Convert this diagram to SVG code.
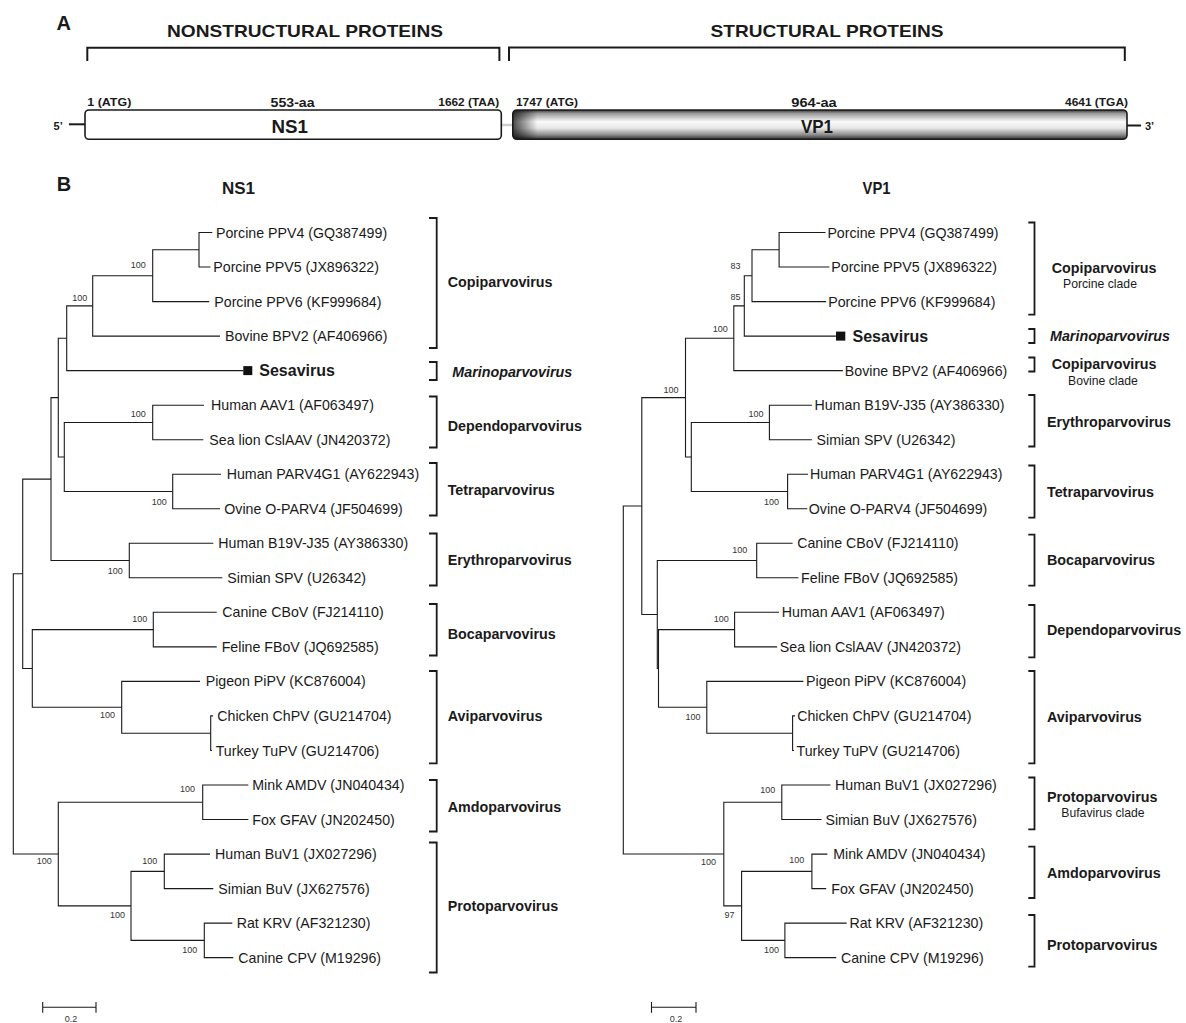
<svg xmlns="http://www.w3.org/2000/svg" width="1186" height="1023" viewBox="0 0 1186 1023">
<style>
text{font-family:"Liberation Sans",Arial,Helvetica,sans-serif;fill:#1a1a1a}
.hd{font-weight:bold;font-size:17px;text-anchor:middle}
.pos{font-weight:bold;font-size:11px}
.aa{font-weight:bold;font-size:13px;text-anchor:middle}
.gene{font-weight:bold;font-size:19px;text-anchor:middle}
.panel{font-weight:bold;font-size:20px}
.ttl{font-weight:bold;font-size:17px;text-anchor:middle}
.leaf{font-size:14.2px}
.ses{font-size:16px;font-weight:bold}
.clade{font-size:14.3px;font-weight:bold}
.it{font-style:italic}
.sub{font-size:12.2px;text-anchor:middle}
.bs{font-size:9px;text-anchor:end;fill:#333}
.sc{font-size:9px;text-anchor:middle;fill:#333}
.br{fill:none;stroke:#1a1a1a;stroke-width:1.1}
.brk{fill:none;stroke:#1a1a1a;stroke-width:1.8}
.hb{fill:none;stroke:#1a1a1a;stroke-width:2}
</style>
<defs>
<linearGradient id="cyl" x1="0" y1="0" x2="0" y2="1">
<stop offset="0" stop-color="#3a3a3a"/>
<stop offset="0.12" stop-color="#9a9a9a"/>
<stop offset="0.4" stop-color="#fbfbfb"/>
<stop offset="0.62" stop-color="#e6e6e6"/>
<stop offset="0.85" stop-color="#8a8a8a"/>
<stop offset="1" stop-color="#2e2e2e"/>
</linearGradient>
<linearGradient id="cylEnd" x1="0" y1="0" x2="1" y2="0">
<stop offset="0" stop-color="#000" stop-opacity="0.7"/>
<stop offset="0.04" stop-color="#000" stop-opacity="0"/>
<stop offset="1" stop-color="#000" stop-opacity="0"/>
</linearGradient>
</defs>
<rect width="1186" height="1023" fill="#fff"/>

<!-- Panel A -->
<g id="panelA">
<text class="panel" x="56.5" y="29.5">A</text>
<g id="hdr-nonstructural">
<text class="hd" x="305" y="36.7" textLength="276" lengthAdjust="spacingAndGlyphs">NONSTRUCTURAL PROTEINS</text>
<path class="hb" d="M87.3 61 V47.7 H499.4 V61"/>
</g>
<g id="hdr-structural">
<text class="hd" x="827" y="36.7" textLength="233" lengthAdjust="spacingAndGlyphs">STRUCTURAL PROTEINS</text>
<path class="hb" d="M509 61 V47.5 H1124.8 V61"/>
</g>
<g id="genome">
<line x1="68.9" y1="124.3" x2="85" y2="124.3" stroke="#1a1a1a" stroke-width="2"/>
<text class="pos" x="53.6" y="130">5’</text>
<line x1="501" y1="125" x2="513" y2="125" stroke="#cfcfcf" stroke-width="2.5"/>
<line x1="1127" y1="125.5" x2="1141" y2="125.5" stroke="#1a1a1a" stroke-width="2"/>
<text class="pos" x="1145" y="130">3’</text>
</g>
<g id="ns1-gene">
<rect x="85" y="110" width="416.3" height="29.3" rx="4" fill="#fff" stroke="#1a1a1a" stroke-width="1.6"/>
<text class="gene" x="289.7" y="132.7" textLength="36.5" lengthAdjust="spacingAndGlyphs">NS1</text>
<text class="pos" x="87.3" y="106" textLength="44" lengthAdjust="spacingAndGlyphs">1 (ATG)</text>
<text class="aa" x="292.6" y="106.5" textLength="44" lengthAdjust="spacingAndGlyphs">553-aa</text>
<text class="pos" x="438.3" y="106" textLength="61" lengthAdjust="spacingAndGlyphs">1662 (TAA)</text>
</g>
<g id="vp1-gene">
<rect x="512.8" y="110" width="614.2" height="29.3" rx="4" fill="url(#cyl)"/>
<rect x="512.8" y="110" width="614.2" height="29.3" rx="4" fill="url(#cylEnd)" stroke="#1a1a1a" stroke-width="1.6"/>
<text class="gene" x="817" y="132.7" textLength="32" lengthAdjust="spacingAndGlyphs">VP1</text>
<text class="pos" x="515.9" y="106" textLength="62" lengthAdjust="spacingAndGlyphs">1747 (ATG)</text>
<text class="aa" x="814" y="106.5" textLength="45.5" lengthAdjust="spacingAndGlyphs">964-aa</text>
<text class="pos" x="1065" y="106" textLength="63" lengthAdjust="spacingAndGlyphs">4641 (TGA)</text>
</g>
</g>

<!-- Panel B titles -->
<text class="panel" x="56.7" y="190.7">B</text>
<text class="ttl" x="238.5" y="193.5">NS1</text>
<text class="ttl" x="876.6" y="193.5" textLength="28" lengthAdjust="spacingAndGlyphs">VP1</text>

<!-- Connectors: NS1 tree -->
<g id="ns1-branches" class="br">
<path d="M212.3 232.5 H199 V267 H210.5"/>
<path d="M199 249.75 H152.7 V301.6 H209.3"/>
<path d="M152.7 275.7 H92.7 V336.1 H220"/>
<path d="M92.7 305.9 H66.7 V370.6 H243.3"/>
<path d="M204 405.2 H152.7 V439.7 H203.3"/>
<path d="M221 474.2 H172.7 V508.8 H220"/>
<path d="M152.7 422.45 H64.3 V491.5 H172.7"/>
<path d="M66.7 338.25 H58.3 V456.98 H64.3"/>
<path d="M213.3 543.3 H129.3 V577.8 H222.3"/>
<path d="M58.3 397.6 H51 V560.55 H129.3"/>
<path d="M216.7 612.3 H153.3 V646.9 H216.7"/>
<path d="M213 715.9 H210.7 V750.5 H212"/>
<path d="M200 681.4 H121.7 V733.2 H210.7"/>
<path d="M153.3 629.6 H32.3 V707.3 H121.7"/>
<path d="M51 479.1 H22.7 V668.45 H32.3"/>
<path d="M248.3 785 H202.7 V819.5 H248.3"/>
<path d="M210 854.1 H164.3 V888.6 H213.3"/>
<path d="M232.3 923.1 H204.3 V957.6 H233.3"/>
<path d="M164.3 871.35 H131 V940.35 H204.3"/>
<path d="M202.7 802.25 H58.3 V905.85 H131"/>
<path d="M22.7 573.8 H13.3 V854.05 H58.3"/>
</g>

<!-- Connectors: VP1 tree -->
<g id="vp1-branches" class="br">
<path d="M825.5 232.5 H779.1 V267 H829.3"/>
<path d="M779.1 249.75 H752 V301.6 H826.2"/>
<path d="M752 275.7 H744.3 V336.1 H835.9"/>
<path d="M744.3 305.9 H733.8 V370.6 H842.9"/>
<path d="M811.9 405.2 H769.4 V439.7 H811.9"/>
<path d="M808 474.2 H787.6 V508.8 H807.3"/>
<path d="M769.4 422.45 H691.3 V491.5 H787.6"/>
<path d="M733.8 338.25 H685.5 V457 H691.3"/>
<path d="M792.6 543.3 H756.7 V577.8 H798.4"/>
<path d="M779 612.3 H734.6 V646.9 H777.1"/>
<path d="M795 715.9 H792.6 V750.5 H794"/>
<path d="M803.4 681.4 H706.8 V733.2 H792.6"/>
<path d="M734.6 629.6 H658.5 V707.3 H706.8"/>
<path d="M756.7 560.55 H657.3 V668.45 H658.5"/>
<path d="M685.5 397.6 H641.8 V614.5 H657.3"/>
<path d="M830.5 785 H781.8 V819.5 H821.6"/>
<path d="M827.4 854.1 H811.9 V888.6 H826.2"/>
<path d="M846.7 923.1 H784.9 V957.6 H836.3"/>
<path d="M811.9 871.35 H741.6 V940.35 H784.9"/>
<path d="M781.8 802.25 H723.8 V905.85 H741.6"/>
<path d="M641.8 506.05 H623.3 V854.05 H723.8"/>
</g>

<!-- Bootstrap values -->
<g id="ns1-support">
<text class="bs" x="145.7" y="268">100</text>
<text class="bs" x="87.3" y="300.7">100</text>
<text class="bs" x="145.7" y="416.7">100</text>
<text class="bs" x="166.7" y="505">100</text>
<text class="bs" x="122.7" y="574">100</text>
<text class="bs" x="147.3" y="621.7">100</text>
<text class="bs" x="115" y="718.3">100</text>
<text class="bs" x="195" y="792.3">100</text>
<text class="bs" x="51.7" y="864">100</text>
<text class="bs" x="157.3" y="864">100</text>
<text class="bs" x="125" y="917.7">100</text>
<text class="bs" x="197.3" y="952.7">100</text>
</g>
<g id="vp1-support">
<text class="bs" x="740.4" y="269">83</text>
<text class="bs" x="740.4" y="300">85</text>
<text class="bs" x="727.7" y="331.7">100</text>
<text class="bs" x="678.6" y="393">100</text>
<text class="bs" x="763.6" y="416.7">100</text>
<text class="bs" x="779" y="505">100</text>
<text class="bs" x="747.4" y="552.7">100</text>
<text class="bs" x="728.8" y="621.7">100</text>
<text class="bs" x="700.6" y="720">100</text>
<text class="bs" x="775.2" y="793.3">100</text>
<text class="bs" x="716" y="865">100</text>
<text class="bs" x="734.6" y="917.7">97</text>
<text class="bs" x="804.2" y="862.7">100</text>
<text class="bs" x="779" y="952.7">100</text>
</g>

<!-- NS1 leaves -->
<g id="ns1-ppv4"><text class="leaf" x="216" y="237.5">Porcine PPV4 (GQ387499)</text></g>
<g id="ns1-ppv5"><text class="leaf" x="213.3" y="272">Porcine PPV5 (JX896322)</text></g>
<g id="ns1-ppv6"><text class="leaf" x="214.3" y="306.6">Porcine PPV6 (KF999684)</text></g>
<g id="ns1-bpv2"><text class="leaf" x="225" y="341.1">Bovine BPV2 (AF406966)</text></g>
<g id="ns1-sesavirus"><rect x="243.3" y="366.1" width="9" height="9" fill="#111"/><text class="ses" x="259.3" y="376.3">Sesavirus</text></g>
<g id="ns1-aav1"><text class="leaf" x="211" y="410.2">Human AAV1 (AF063497)</text></g>
<g id="ns1-cslaav"><text class="leaf" x="209.3" y="444.7">Sea lion CslAAV (JN420372)</text></g>
<g id="ns1-parv4g1"><text class="leaf" x="226.7" y="479.2">Human PARV4G1 (AY622943)</text></g>
<g id="ns1-oparv4"><text class="leaf" x="224.3" y="513.8">Ovine O-PARV4 (JF504699)</text></g>
<g id="ns1-b19v"><text class="leaf" x="218.3" y="548.3">Human B19V-J35 (AY386330)</text></g>
<g id="ns1-spv"><text class="leaf" x="227.3" y="582.8">Simian SPV (U26342)</text></g>
<g id="ns1-cbov"><text class="leaf" x="222.3" y="617.3">Canine CBoV (FJ214110)</text></g>
<g id="ns1-fbov"><text class="leaf" x="221.7" y="651.9">Feline FBoV (JQ692585)</text></g>
<g id="ns1-pipv"><text class="leaf" x="205.7" y="686.4">Pigeon PiPV (KC876004)</text></g>
<g id="ns1-chpv"><text class="leaf" x="217.3" y="720.9">Chicken ChPV (GU214704)</text></g>
<g id="ns1-tupv"><text class="leaf" x="215.7" y="755.5">Turkey TuPV (GU214706)</text></g>
<g id="ns1-amdv"><text class="leaf" x="252.3" y="790">Mink AMDV (JN040434)</text></g>
<g id="ns1-gfav"><text class="leaf" x="252.3" y="824.5">Fox GFAV (JN202450)</text></g>
<g id="ns1-buv1"><text class="leaf" x="215" y="859.1">Human BuV1 (JX027296)</text></g>
<g id="ns1-sbuv"><text class="leaf" x="218.3" y="893.6">Simian BuV (JX627576)</text></g>
<g id="ns1-krv"><text class="leaf" x="236.7" y="928.1">Rat KRV (AF321230)</text></g>
<g id="ns1-cpv"><text class="leaf" x="238.3" y="962.6">Canine CPV (M19296)</text></g>

<!-- VP1 leaves -->
<g id="vp1-ppv4"><text class="leaf" x="827.4" y="237.5">Porcine PPV4 (GQ387499)</text></g>
<g id="vp1-ppv5"><text class="leaf" x="831.3" y="272">Porcine PPV5 (JX896322)</text></g>
<g id="vp1-ppv6"><text class="leaf" x="828.2" y="306.6">Porcine PPV6 (KF999684)</text></g>
<g id="vp1-sesavirus"><rect x="836" y="331.6" width="9.3" height="9" fill="#111"/><text class="ses" x="852.5" y="341.9">Sesavirus</text></g>
<g id="vp1-bpv2"><text class="leaf" x="844.8" y="375.6">Bovine BPV2 (AF406966)</text></g>
<g id="vp1-b19v"><text class="leaf" x="814.6" y="410.2">Human B19V-J35 (AY386330)</text></g>
<g id="vp1-spv"><text class="leaf" x="816.6" y="444.7">Simian SPV (U26342)</text></g>
<g id="vp1-parv4g1"><text class="leaf" x="810" y="479.2">Human PARV4G1 (AY622943)</text></g>
<g id="vp1-oparv4"><text class="leaf" x="808.8" y="513.8">Ovine O-PARV4 (JF504699)</text></g>
<g id="vp1-cbov"><text class="leaf" x="797.2" y="548.3">Canine CBoV (FJ214110)</text></g>
<g id="vp1-fbov"><text class="leaf" x="801.1" y="582.8">Feline FBoV (JQ692585)</text></g>
<g id="vp1-aav1"><text class="leaf" x="781.8" y="617.3">Human AAV1 (AF063497)</text></g>
<g id="vp1-cslaav"><text class="leaf" x="779.8" y="651.9">Sea lion CslAAV (JN420372)</text></g>
<g id="vp1-pipv"><text class="leaf" x="806.1" y="686.4">Pigeon PiPV (KC876004)</text></g>
<g id="vp1-chpv"><text class="leaf" x="797.2" y="720.9">Chicken ChPV (GU214704)</text></g>
<g id="vp1-tupv"><text class="leaf" x="796.5" y="755.5">Turkey TuPV (GU214706)</text></g>
<g id="vp1-buv1"><text class="leaf" x="835.1" y="790">Human BuV1 (JX027296)</text></g>
<g id="vp1-sbuv"><text class="leaf" x="825.5" y="824.5">Simian BuV (JX627576)</text></g>
<g id="vp1-amdv"><text class="leaf" x="833.2" y="859.1">Mink AMDV (JN040434)</text></g>
<g id="vp1-gfav"><text class="leaf" x="831.3" y="893.6">Fox GFAV (JN202450)</text></g>
<g id="vp1-krv"><text class="leaf" x="849.4" y="928.1">Rat KRV (AF321230)</text></g>
<g id="vp1-cpv"><text class="leaf" x="840.9" y="962.6">Canine CPV (M19296)</text></g>

<!-- NS1 clades -->
<g id="ns1-clade-copi"><path class="brk" d="M429 218 H436.7 V348 H429"/><text class="clade" x="447.7" y="287">Copiparvovirus</text></g>
<g id="ns1-clade-marino"><path class="brk" d="M429 362 H436.7 V380 H429"/><text class="clade it" x="452.3" y="376.5">Marinoparvovirus</text></g>
<g id="ns1-clade-dependo"><path class="brk" d="M429 396.5 H436.7 V447.5 H429"/><text class="clade" x="447.7" y="431">Dependoparvovirus</text></g>
<g id="ns1-clade-tetra"><path class="brk" d="M429 463 H436.7 V515.5 H429"/><text class="clade" x="447.7" y="495">Tetraparvovirus</text></g>
<g id="ns1-clade-erythro"><path class="brk" d="M429 533.5 H436.7 V585.5 H429"/><text class="clade" x="447.7" y="565">Erythroparvovirus</text></g>
<g id="ns1-clade-boca"><path class="brk" d="M429 604 H436.7 V655.5 H429"/><text class="clade" x="447.7" y="639">Bocaparvovirus</text></g>
<g id="ns1-clade-avi"><path class="brk" d="M429 671 H436.7 V763.3 H429"/><text class="clade" x="447.7" y="720.5">Aviparvovirus</text></g>
<g id="ns1-clade-amdo"><path class="brk" d="M429 780 H436.7 V831.5 H429"/><text class="clade" x="447.7" y="811.5">Amdoparvovirus</text></g>
<g id="ns1-clade-proto"><path class="brk" d="M429 842.5 H436.7 V972.5 H429"/><text class="clade" x="447.7" y="911">Protoparvovirus</text></g>

<!-- VP1 clades -->
<g id="vp1-clade-copi-porcine"><path class="brk" d="M1028.3 222.5 H1034.5 V314.7 H1028.3"/><text class="clade" x="1051.7" y="273">Copiparvovirus</text><text class="sub" x="1100" y="288">Porcine clade</text></g>
<g id="vp1-clade-marino"><path class="brk" d="M1028.3 329 H1034.5 V343 H1028.3"/><text class="clade it" x="1050" y="341">Marinoparvovirus</text></g>
<g id="vp1-clade-copi-bovine"><path class="brk" d="M1028.3 357.5 H1034.5 V371.5 H1028.3"/><text class="clade" x="1051.7" y="369">Copiparvovirus</text><text class="sub" x="1103" y="385">Bovine clade</text></g>
<g id="vp1-clade-erythro"><path class="brk" d="M1028.3 395 H1034.5 V446.5 H1028.3"/><text class="clade" x="1047" y="427">Erythroparvovirus</text></g>
<g id="vp1-clade-tetra"><path class="brk" d="M1028.3 465.5 H1034.5 V517.7 H1028.3"/><text class="clade" x="1047" y="496.5">Tetraparvovirus</text></g>
<g id="vp1-clade-boca"><path class="brk" d="M1028.3 534.7 H1034.5 V585.7 H1028.3"/><text class="clade" x="1047" y="565">Bocaparvovirus</text></g>
<g id="vp1-clade-dependo"><path class="brk" d="M1028.3 605 H1034.5 V657.3 H1028.3"/><text class="clade" x="1047" y="635">Dependoparvovirus</text></g>
<g id="vp1-clade-avi"><path class="brk" d="M1028.3 671 H1034.5 V763.3 H1028.3"/><text class="clade" x="1047" y="721.5">Aviparvovirus</text></g>
<g id="vp1-clade-proto-bufa"><path class="brk" d="M1028.3 777.5 H1034.5 V829.3 H1028.3"/><text class="clade" x="1047" y="801.5">Protoparvovirus</text><text class="sub" x="1103" y="816.5">Bufavirus clade</text></g>
<g id="vp1-clade-amdo"><path class="brk" d="M1028.3 846.7 H1034.5 V898 H1028.3"/><text class="clade" x="1047" y="877.5">Amdoparvovirus</text></g>
<g id="vp1-clade-proto"><path class="brk" d="M1028.3 915 H1034.5 V966.7 H1028.3"/><text class="clade" x="1047" y="950">Protoparvovirus</text></g>

<!-- Scale bars -->
<g id="ns1-scale">
<path class="br" d="M42.7 1002 V1012.7 M42.7 1007.3 H96 M96 1002 V1012.7"/>
<text class="sc" x="71" y="1021.7">0.2</text>
</g>
<g id="vp1-scale">
<path class="br" d="M651.5 1002 V1012.7 M651.5 1007.3 H696 M696 1002 V1012.7"/>
<text class="sc" x="675.9" y="1021.7">0.2</text>
</g>
</svg>
